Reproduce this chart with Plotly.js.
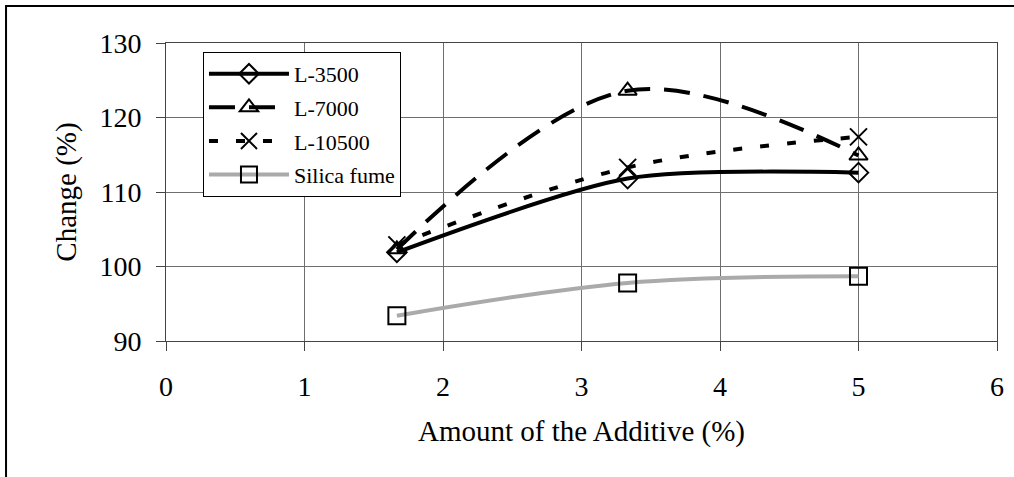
<!DOCTYPE html>
<html>
<head>
<meta charset="utf-8">
<script src="https://cdn.plot.ly/plotly-3.0.1.min.js"></script>
<style>html,body{margin:0;padding:0;background:#fff;}#chart{width:1014px;height:477px;}</style>
</head>
<body>
<div id="chart"></div>
<script>
const additive = [1.667, 3.333, 5];
const l3500 = [101.9, 111.8, 112.6];
const l7000 = [102.3, 123.6, 114.9];
const l10500 = [102.9, 113.3, 117.4];
const silicaFume = [93.4, 97.8, 98.7];
const xTicks = [0, 1, 2, 3, 4, 5, 6];
const yTicks = [90, 100, 110, 120, 130];

const serif = 'Liberation Serif, Times New Roman, serif';

const traces = [
  {x: additive, y: l3500, name: 'L-3500', mode: 'lines+markers', legendgroup: 'a',
   line: {color: '#000', width: 4, shape: 'spline', smoothing: 0.75},
   marker: {symbol: 'diamond-open', size: 15, color: '#000', line: {width: 2}}},
  {x: additive, y: l7000, name: 'L-7000', mode: 'lines+markers', legendgroup: 'b',
   line: {color: '#000', width: 4, dash: '26px,14px', shape: 'spline', smoothing: 1},
   marker: {symbol: 'triangle-up-open', size: 16, color: '#000', line: {width: 2}}},
  {x: additive, y: l10500, name: 'L-10500', mode: 'lines+markers', legendgroup: 'c',
   line: {color: '#000', width: 4, dash: '9px,18px', shape: 'spline', smoothing: 1},
   marker: {symbol: 'x-thin-open', size: 17, color: '#000', line: {width: 2, color: '#000'}}},
  {x: additive, y: silicaFume, name: 'Silica fume', mode: 'lines+markers', legendgroup: 'd',
   line: {color: '#aaaaaa', width: 4, shape: 'spline', smoothing: 1},
   marker: {symbol: 'square-open', size: 17, color: '#000', line: {width: 2}}}
];

const layout = {
  width: 1014, height: 477,
  margin: {l: 166, r: 17, t: 43, b: 136},
  paper_bgcolor: '#fff', plot_bgcolor: '#fff',
  font: {family: serif, color: '#000', size: 28},
  showlegend: true,
  legend: {
    x: 0.0445, y: 0.97, xanchor: 'left', yanchor: 'top',
    bordercolor: '#000', borderwidth: 1, bgcolor: '#fff',
    font: {family: serif, size: 22, color: '#000'},
    itemwidth: 80, tracegroupgap: 2, traceorder: 'grouped'
  },
  xaxis: {
    range: [0, 6], tickvals: xTicks, ticktext: xTicks.map(String),
    showgrid: true, gridcolor: '#6e6e6e', gridwidth: 1,
    zeroline: false, showline: true, linecolor: '#444', linewidth: 1, mirror: true,
    ticks: 'outside', ticklen: 9, tickcolor: '#444', tickfont: {size: 28},
    ticklabelstandoff: 11,
    title: {text: 'Amount of the Additive (%)', font: {size: 29}, standoff: 20}
  },
  yaxis: {
    range: [90, 130], tickvals: yTicks, ticktext: yTicks.map(String),
    showgrid: true, gridcolor: '#6e6e6e', gridwidth: 1,
    zeroline: false, showline: true, linecolor: '#444', linewidth: 1, mirror: true,
    ticks: 'outside', ticklen: 9, tickcolor: '#444', tickfont: {size: 28},
    ticklabelstandoff: 9,
    title: {text: 'Change (%)', font: {size: 29}, standoff: 14}
  },
  shapes: [
    {type: 'rect', xref: 'paper', yref: 'paper', x0: -0.1925, x1: 1.06, y0: -0.6, y1: 1.124,
     line: {color: '#000', width: 2}, fillcolor: 'rgba(0,0,0,0)', layer: 'below'}
  ]
};

Plotly.newPlot('chart', traces, layout, {displayModeBar: false, staticPlot: true});
</script>
</body>
</html>
